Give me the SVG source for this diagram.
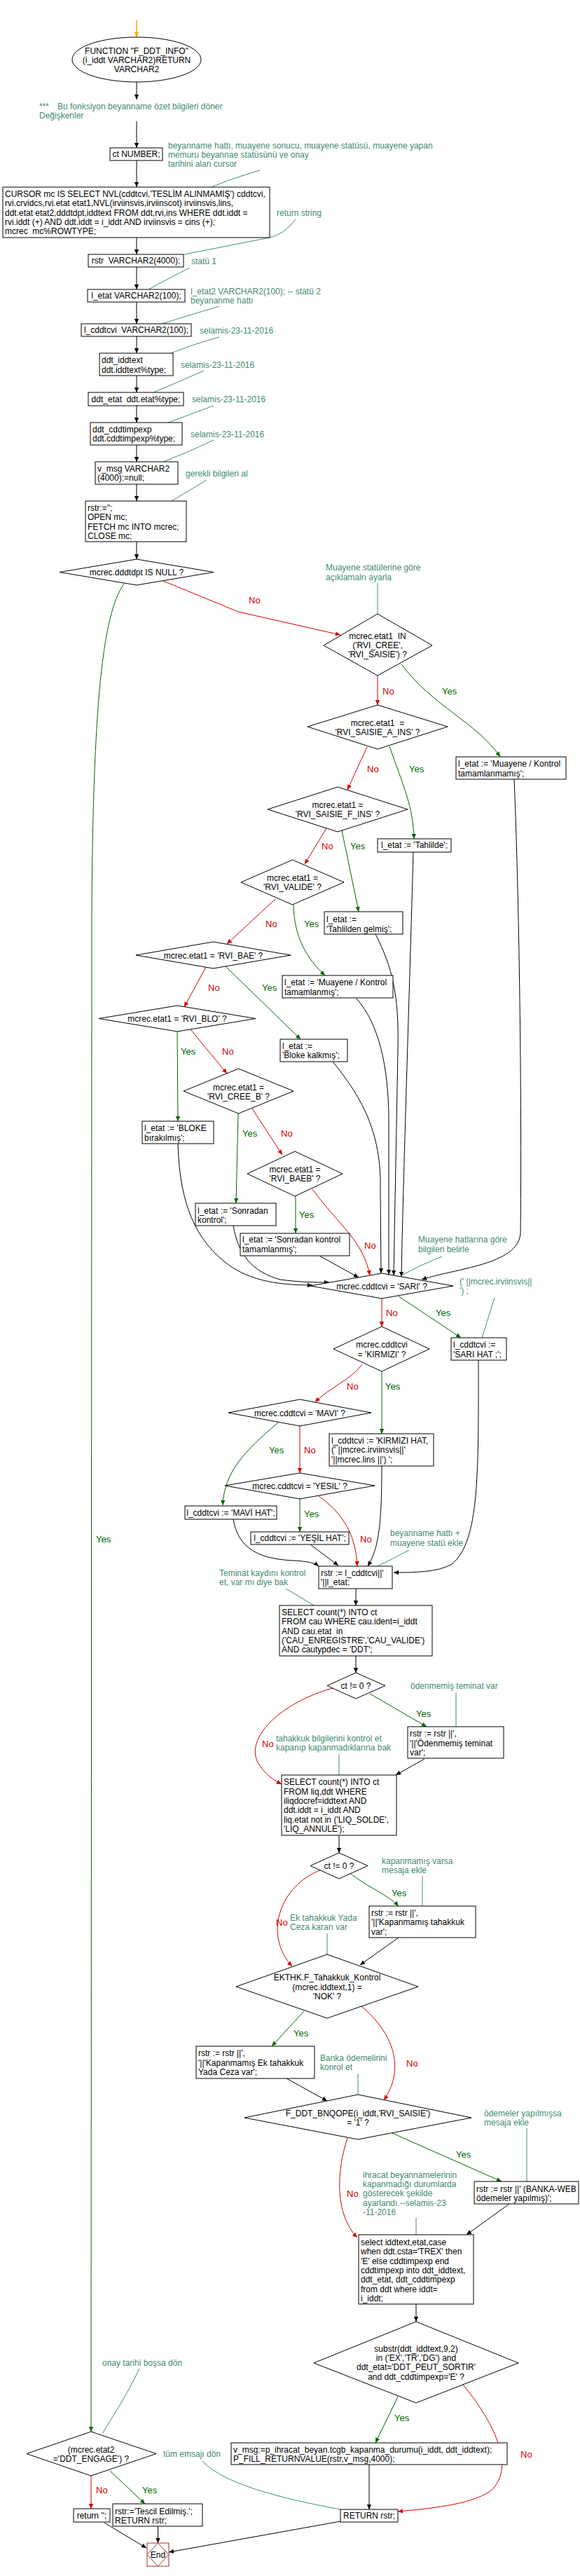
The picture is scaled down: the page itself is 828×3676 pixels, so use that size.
<svg xmlns="http://www.w3.org/2000/svg" width="828" height="3676" viewBox="0 0 828 3676">
<style>
.n{fill:#fff;stroke:#000;stroke-width:1}
text{font-family:"Liberation Sans",Arial,sans-serif;font-size:12px;fill:#000}
.m{text-anchor:middle}
text.c{fill:#438a70}
.cl{stroke:#438a70;fill:none;stroke-width:1}
.k{stroke:#000;fill:none;stroke-width:1}
.g{stroke:#006400;fill:none;stroke-width:1}
.r{stroke:#d00000;fill:none;stroke-width:1}
.o{stroke:#ffa500;fill:none;stroke-width:1.5}
text.y{fill:#006400;font-size:13px}
text.no{fill:#d00000;font-size:13px}
.e{fill:#fff;stroke:#a52a2a;stroke-width:1}
</style>
<defs>
<marker id="ak" viewBox="0 0 10 10" refX="10" refY="5" markerWidth="10" markerHeight="7" markerUnits="userSpaceOnUse" orient="auto"><path d="M0,0.5 L10,5 L0,9.5 z" fill="#000"/></marker>
<marker id="ag" viewBox="0 0 10 10" refX="10" refY="5" markerWidth="10" markerHeight="7" markerUnits="userSpaceOnUse" orient="auto"><path d="M0,0.5 L10,5 L0,9.5 z" fill="#006400"/></marker>
<marker id="ar" viewBox="0 0 10 10" refX="10" refY="5" markerWidth="10" markerHeight="7" markerUnits="userSpaceOnUse" orient="auto"><path d="M0,0.5 L10,5 L0,9.5 z" fill="#d00000"/></marker>
<marker id="ao" viewBox="0 0 10 10" refX="10" refY="5" markerWidth="10" markerHeight="7" markerUnits="userSpaceOnUse" orient="auto"><path d="M0,0.5 L10,5 L0,9.5 z" fill="#ffa500"/></marker>
</defs>

<g id="connectors">
<path class="o" d="M195,29 L195,53" marker-end="url(#ao)"/>
<path class="k" d="M195,117 L195,142" marker-end="url(#ak)"/>
<path class="k" d="M195,173 L195,211" marker-end="url(#ak)"/>
<path class="k" d="M195,229 L195,267" marker-end="url(#ak)"/>
<path class="k" d="M195,339 L195,363" marker-end="url(#ak)"/>
<path class="k" d="M195,381 L195,413" marker-end="url(#ak)"/>
<path class="k" d="M195,431 L195,462" marker-end="url(#ak)"/>
<path class="k" d="M195,480 L195,504" marker-end="url(#ak)"/>
<path class="k" d="M195,536 L195,560" marker-end="url(#ak)"/>
<path class="k" d="M195,579 L195,603" marker-end="url(#ak)"/>
<path class="k" d="M195,635 L195,659" marker-end="url(#ak)"/>
<path class="k" d="M195,691 L195,715" marker-end="url(#ak)"/>
<path class="k" d="M195,773 L195,798" marker-end="url(#ak)"/>
<path class="r" d="M233,829 L340,873 L486,906" marker-end="url(#ar)"/>
<text class="no" x="355" y="861">No</text>
<path class="g" d="M177,833 C148,875 133,990 131,1300 L130,3470" marker-end="url(#ag)"/>
<text class="y" x="137" y="2201">Yes</text>
<path class="r" d="M539,964 L539,1006" marker-end="url(#ar)"/>
<text class="no" x="546" y="991">No</text>
<path class="g" d="M573,948 C620,1010 680,1030 714,1080" marker-end="url(#ag)"/>
<text class="y" x="631" y="991">Yes</text>
<path class="r" d="M524,1066 L496,1127" marker-end="url(#ar)"/>
<text class="no" x="524" y="1102">No</text>
<path class="g" d="M556,1065 C575,1120 590,1150 591,1197" marker-end="url(#ag)"/>
<text class="y" x="584" y="1102">Yes</text>
<path class="r" d="M466,1182 L435,1233" marker-end="url(#ar)"/>
<text class="no" x="459" y="1212">No</text>
<path class="g" d="M488,1185 L512,1301" marker-end="url(#ag)"/>
<text class="y" x="500" y="1212">Yes</text>
<path class="r" d="M393,1283 L324,1347" marker-end="url(#ar)"/>
<text class="no" x="379" y="1323">No</text>
<path class="g" d="M419,1291 C420,1340 440,1370 464,1392" marker-end="url(#ag)"/>
<text class="y" x="434" y="1323">Yes</text>
<path class="r" d="M294,1380 L263,1437" marker-end="url(#ar)"/>
<text class="no" x="297" y="1414">No</text>
<path class="g" d="M322,1379 L429,1483" marker-end="url(#ag)"/>
<text class="y" x="374" y="1414">Yes</text>
<path class="g" d="M253,1472 L254,1600" marker-end="url(#ag)"/>
<text class="y" x="258" y="1505">Yes</text>
<path class="r" d="M272,1469 L324,1532" marker-end="url(#ar)"/>
<text class="no" x="317" y="1505">No</text>
<path class="g" d="M340,1589 L337,1717" marker-end="url(#ag)"/>
<text class="y" x="346" y="1622">Yes</text>
<path class="r" d="M360,1582 L403,1648" marker-end="url(#ar)"/>
<text class="no" x="401" y="1622">No</text>
<path class="g" d="M422,1707 L422,1760" marker-end="url(#ag)"/>
<text class="y" x="427" y="1738">Yes</text>
<path class="r" d="M446,1697 C485,1750 518,1770 528,1820" marker-end="url(#ar)"/>
<text class="no" x="520" y="1782">No</text>
<path class="k" d="M734,1112 C742,1300 745,1600 743,1760 C740,1805 650,1810 602,1826" marker-end="url(#ak)"/>
<path class="k" d="M590,1216 C585,1400 575,1700 573,1822" marker-end="url(#ak)"/>
<path class="k" d="M536,1333 C560,1380 570,1420 568,1500 L562,1820" marker-end="url(#ak)"/>
<path class="k" d="M509,1425 C540,1460 555,1520 555,1600 L555,1819" marker-end="url(#ak)"/>
<path class="k" d="M475,1515 C520,1570 545,1620 543,1700 L544,1817" marker-end="url(#ak)"/>
<path class="k" d="M456,1792 L512,1823" marker-end="url(#ak)"/>
<path class="k" d="M254,1632 C256,1700 270,1760 320,1800 C350,1825 390,1834 446,1834" marker-end="url(#ak)"/>
<path class="k" d="M333,1749 C340,1790 360,1815 400,1826 C430,1830 450,1830 470,1830" marker-end="url(#ak)"/>
<path class="r" d="M545,1853 L545,1893" marker-end="url(#ar)"/>
<text class="no" x="551" y="1878">No</text>
<path class="g" d="M568,1849 L658,1909" marker-end="url(#ag)"/>
<text class="y" x="622" y="1878">Yes</text>
<path class="g" d="M545,1957 L545,2046" marker-end="url(#ag)"/>
<text class="y" x="550" y="1983">Yes</text>
<path class="r" d="M517,1947 C500,1970 470,1980 450,2001" marker-end="url(#ar)"/>
<text class="no" x="495" y="1983">No</text>
<path class="r" d="M428,2035 L428,2102" marker-end="url(#ar)"/>
<text class="no" x="434" y="2074">No</text>
<path class="g" d="M397,2030 C350,2070 320,2100 318,2148" marker-end="url(#ag)"/>
<text class="y" x="384" y="2074">Yes</text>
<path class="g" d="M428,2139 L428,2186" marker-end="url(#ag)"/>
<text class="y" x="434" y="2165">Yes</text>
<path class="r" d="M455,2135 C490,2160 508,2190 510,2235" marker-end="url(#ar)"/>
<text class="no" x="514" y="2201">No</text>
<path class="k" d="M333,2168 C340,2210 370,2225 420,2227 C440,2228 450,2231 455,2235" marker-end="url(#ak)"/>
<path class="k" d="M443,2204 L483,2234" marker-end="url(#ak)"/>
<path class="k" d="M545,2092 C545,2180 540,2210 525,2235" marker-end="url(#ak)"/>
<path class="k" d="M683,1941 C683,2100 685,2200 645,2232 C625,2244 590,2244 562,2244" marker-end="url(#ak)"/>
<path class="k" d="M508,2267 L508,2291" marker-end="url(#ak)"/>
<path class="k" d="M508,2363 L508,2387" marker-end="url(#ak)"/>
<path class="g" d="M528,2417 L609,2464" marker-end="url(#ag)"/>
<text class="y" x="594" y="2450">Yes</text>
<path class="r" d="M475,2409 C400,2430 350,2480 368,2515 C378,2532 390,2540 402,2546" marker-end="url(#ar)"/>
<text class="no" x="374" y="2493">No</text>
<path class="k" d="M606,2510 L565,2533" marker-end="url(#ak)"/>
<path class="k" d="M484,2619 L484,2644" marker-end="url(#ak)"/>
<path class="g" d="M501,2674 C520,2690 555,2705 569,2720" marker-end="url(#ag)"/>
<text class="y" x="559" y="2706">Yes</text>
<path class="r" d="M459,2668 C400,2690 375,2760 417,2806" marker-end="url(#ar)"/>
<text class="no" x="394" y="2748">No</text>
<path class="k" d="M569,2765 L514,2804" marker-end="url(#ak)"/>
<path class="g" d="M434,2870 L388,2920" marker-end="url(#ag)"/>
<text class="y" x="419" y="2906">Yes</text>
<path class="r" d="M516,2863 C560,2900 580,2950 548,2997" marker-end="url(#ar)"/>
<text class="no" x="580" y="2949">No</text>
<path class="k" d="M409,2966 L467,2998" marker-end="url(#ak)"/>
<path class="g" d="M560,3044 L716,3113" marker-end="url(#ag)"/>
<text class="y" x="651" y="3079">Yes</text>
<path class="r" d="M496,3051 C480,3100 478,3160 510,3193" marker-end="url(#ar)"/>
<text class="no" x="495" y="3135">No</text>
<path class="k" d="M727,3145 L666,3189" marker-end="url(#ak)"/>
<path class="k" d="M594,3288 L594,3313" marker-end="url(#ak)"/>
<path class="g" d="M568,3420 L536,3486" marker-end="url(#ag)"/>
<text class="y" x="563" y="3455">Yes</text>
<path class="r" d="M661,3403 C700,3450 740,3520 700,3555 C670,3575 610,3580 568,3584" marker-end="url(#ar)"/>
<text class="no" x="743" y="3507">No</text>
<path class="k" d="M527,3517 L527,3581" marker-end="url(#ak)"/>
<path class="k" d="M486,3598 L241,3642" marker-end="url(#ak)"/>
<path class="r" d="M130,3533 L130,3580" marker-end="url(#ar)"/>
<text class="no" x="137" y="3558">No</text>
<path class="g" d="M157,3526 L207,3573" marker-end="url(#ag)"/>
<text class="y" x="203" y="3558">Yes</text>
<path class="k" d="M149,3600 L209,3636" marker-end="url(#ak)"/>
<path class="k" d="M225.5,3605 L225.5,3629" marker-end="url(#ak)"/>
</g>

<g id="comments">
<text class="c" x="56" y="156">***</text>
<text class="c" x="82" y="156">Bu fonksiyon beyanname özet bilgileri döner</text>
<text class="c" x="56" y="169">Değişkenler</text>
<text class="c" x="240"><tspan x="240" y="212">beyanname hattı, muayene sonucu, muayene statüsü, muayene yapan</tspan><tspan x="240" y="225">memuru beyannae statüsünü ve onay</tspan><tspan x="240" y="238">tarihini alan cursor</tspan></text>
<path class="cl" d="M371,243 Q330,255 302,267"/>
<text class="c" x="395" y="308">return string</text>
<path class="cl" d="M422,313 Q405,335 385,339 Q330,350 263,363"/>
<text class="c" x="273" y="377">statü 1</text>
<path class="cl" d="M271,382 Q245,395 212,413"/>
<text class="c"><tspan x="272" y="420">l_etat2 VARCHAR2(100); -- statü 2</tspan><tspan x="272" y="433">beyananme hattı</tspan></text>
<path class="cl" d="M313,437 Q270,450 231,462"/>
<text class="c" x="285" y="476">selamis-23-11-2016</text>
<path class="cl" d="M313,481 Q280,490 244,504"/>
<text class="c" x="258" y="525">selamis-23-11-2016</text>
<path class="cl" d="M291,529 Q255,545 219,560"/>
<text class="c" x="274" y="574">selamis-23-11-2016</text>
<path class="cl" d="M305,579 Q275,590 240,603"/>
<text class="c" x="272" y="624">selamis-23-11-2016</text>
<path class="cl" d="M305,628 Q270,645 233,659"/>
<text class="c" x="265" y="680">gerekli bilgileri al</text>
<path class="cl" d="M295,685 Q270,700 245,715"/>
<text class="c"><tspan x="465" y="814">Muayene statülerine göre</tspan><tspan x="465" y="828">açıklamalrı ayarla</tspan></text>
<path class="cl" d="M539,832 L539,876"/>
<text class="c"><tspan x="597" y="1773">Muayene hatlarına göre</tspan><tspan x="597" y="1787">bilgileri belirle</tspan></text>
<path class="cl" d="M631,1793 Q600,1805 573,1820"/>
<text class="c"><tspan x="656" y="1833">(' ||mcrec.irviinsvis||</tspan><tspan x="656" y="1846">') ;</tspan></text>
<path class="cl" d="M706,1852 L688,1909"/>
<text class="c"><tspan x="557" y="2192">beyanname hattı +</tspan><tspan x="557" y="2206">muayene statü ekle</tspan></text>
<path class="cl" d="M584,2212 Q560,2225 539,2235"/>
<text class="c"><tspan x="313" y="2249">Teminat kaydını kontrol</tspan><tspan x="313" y="2262">et, var mı diye bak</tspan></text>
<path class="cl" d="M408,2267 Q430,2280 448,2291"/>
<text class="c" x="586" y="2410">ödenmemiş teminat var</text>
<path class="cl" d="M651,2415 L651,2465"/>
<text class="c"><tspan x="394" y="2485">tahakkuk bilgilerini kontrol et</tspan><tspan x="394" y="2498">kapanıp kapanmadıklarına bak</tspan></text>
<path class="cl" d="M484,2503 L484,2533"/>
<text class="c"><tspan x="545" y="2660">kapanmamış varsa</tspan><tspan x="545" y="2673">mesaja ekle</tspan></text>
<path class="cl" d="M603,2677 L603,2720"/>
<text class="c"><tspan x="414" y="2741">Ek tahakkuk Yada</tspan><tspan x="414" y="2754">Ceza kararı var</tspan></text>
<path class="cl" d="M467,2759 L467,2789"/>
<text class="c"><tspan x="457" y="2941">Banka ödemelirini</tspan><tspan x="457" y="2954">konrol et</tspan></text>
<path class="cl" d="M511,2959 L511,2989"/>
<text class="c"><tspan x="691" y="3020">ödemeler yapılmışsa</tspan><tspan x="691" y="3033">mesaja ekle</tspan></text>
<path class="cl" d="M752,3037 L752,3113"/>
<text class="c"><tspan x="518" y="3108">ihracat beyannamelerinin</tspan><tspan x="518" y="3121">kapanmadığı durumlarda</tspan><tspan x="518" y="3134">gösterecek şekilde</tspan><tspan x="518" y="3148">ayarlandı.--selamis-23</tspan><tspan x="518" y="3161">-11-2016</tspan></text>
<path class="cl" d="M594,3165 L594,3189"/>
<text class="c" x="233" y="3506">tüm emsajı dön</text>
<path class="cl" d="M289,3512 C320,3545 400,3565 486,3581"/>
<text class="c" x="146" y="3376">onay tarihi boşsa dön</text>
<path class="cl" d="M199,3380 C180,3420 160,3450 146,3473"/>
</g>

<g id="start"><ellipse class="n" cx="195" cy="85" rx="92" ry="32"/><text class="m"><tspan x="195" y="77">FUNCTION "F_DDT_INFO"</tspan><tspan x="195" y="90">(i_iddt VARCHAR2)RETURN</tspan><tspan x="195" y="103">VARCHAR2</tspan></text></g>
<g id="ct"><rect class="n" x="157" y="211" width="75" height="18"/><text class="m" x="194.5" y="224">ct NUMBER;</text></g>
<g id="cursor"><rect class="n" x="4" y="267" width="381" height="72"/><text><tspan x="7" y="281">CURSOR mc IS SELECT NVL(cddtcvi,'TESLİM ALINMAMIŞ') cddtcvi,</tspan><tspan x="7" y="294">rvi.crvidcs,rvi.etat etat1,NVL(irviinsvis,irviinscot) irviinsvis,lins,</tspan><tspan x="7" y="308">ddt.etat etat2,dddtdpt,iddtext FROM ddt,rvi,ins WHERE ddt.iddt =</tspan><tspan x="7" y="321">rvi.iddt (+) AND ddt.iddt = i_iddt AND irviinsvis = cins (+);</tspan><tspan x="7" y="334" xml:space="preserve">mcrec  mc%ROWTYPE;</tspan></text></g>
<g id="rstrdecl"><rect class="n" x="126" y="363" width="136" height="18"/><text class="m" x="194" y="376" xml:space="preserve">rstr  VARCHAR2(4000);</text></g>
<g id="letat"><rect class="n" x="125" y="413" width="139" height="18"/><text class="m" x="194.5" y="426">l_etat VARCHAR2(100);</text></g>
<g id="lcddtcvi"><rect class="n" x="116" y="462" width="157" height="18"/><text class="m" x="194.5" y="475" xml:space="preserve">l_cddtcvi  VARCHAR2(100);</text></g>
<g id="ddtiddtext"><rect class="n" x="142" y="504" width="105" height="32"/><text><tspan x="145" y="518">ddt_iddtext</tspan><tspan x="145" y="532">ddt.iddtext%type;</tspan></text></g>
<g id="ddtetat"><rect class="n" x="126" y="560" width="136" height="19"/><text class="m" x="194" y="574" xml:space="preserve">ddt_etat  ddt.etat%type;</text></g>
<g id="ddtcddtimpexp"><rect class="n" x="129" y="603" width="131" height="32"/><text><tspan x="132" y="617">ddt_cddtimpexp</tspan><tspan x="132" y="630">ddt.cddtimpexp%type;</tspan></text></g>
<g id="vmsg"><rect class="n" x="136" y="659" width="118" height="32"/><text><tspan x="139" y="673">v_msg VARCHAR2</tspan><tspan x="139" y="686">(4000):=null;</tspan></text></g>
<g id="open"><rect class="n" x="122" y="715" width="144" height="58"/><text><tspan x="125" y="729">rstr:='';</tspan><tspan x="125" y="742">OPEN mc;</tspan><tspan x="125" y="756">FETCH mc INTO mcrec;</tspan><tspan x="125" y="769">CLOSE mc;</tspan></text></g>
<g id="d1"><path class="n" d="M195,798 L305,816.5 L195,835 L85,816.5 Z"/><text class="m" x="195" y="821">mcrec.dddtdpt IS NULL ?</text></g>
<g id="d2"><path class="n" d="M539,876 L617,921 L539,964 L462,921 Z"/><text class="m" xml:space="preserve"><tspan x="539" y="912">mcrec.etat1  IN</tspan><tspan x="539" y="925">('RVI_CREE',</tspan><tspan x="539" y="938">'RVI_SAISIE') ?</tspan></text></g>
<g id="b1"><rect class="n" x="651" y="1080" width="157" height="32"/><text><tspan x="654" y="1094">l_etat := 'Muayene / Kontrol</tspan><tspan x="654" y="1108">tamamlanmamış';</tspan></text></g>
<g id="d3"><path class="n" d="M539,1006 L639,1037 L539,1069 L439,1037 Z"/><text class="m" xml:space="preserve"><tspan x="539" y="1036">mcrec.etat1  =</tspan><tspan x="539" y="1049">'RVI_SAISIE_A_INS' ?</tspan></text></g>
<g id="d4"><path class="n" d="M482,1123 L582,1155 L482,1187 L382,1155 Z"/><text class="m"><tspan x="482" y="1153">mcrec.etat1 =</tspan><tspan x="482" y="1166">'RVI_SAISIE_F_INS' ?</tspan></text></g>
<g id="b2"><rect class="n" x="539" y="1197" width="105" height="19"/><text class="m" x="591.5" y="1210">l_etat := 'Tahlilde';</text></g>
<g id="d5"><path class="n" d="M417.5,1227 L491,1259 L417.5,1291 L344,1259 Z"/><text class="m"><tspan x="417.5" y="1257">mcrec.etat1 =</tspan><tspan x="417.5" y="1270">'RVI_VALIDE' ?</tspan></text></g>
<g id="b3"><rect class="n" x="463" y="1301" width="112" height="32"/><text><tspan x="466" y="1316">l_etat :=</tspan><tspan x="466" y="1330">'Tahlilden gelmiş';</tspan></text></g>
<g id="d6"><path class="n" d="M304.5,1344 L415,1363 L304.5,1382 L194,1363 Z"/><text class="m" x="304.5" y="1368">mcrec.etat1 = 'RVI_BAE' ?</text></g>
<g id="b4"><rect class="n" x="403" y="1392" width="158" height="32"/><text><tspan x="406" y="1406">l_etat := 'Muayene / Kontrol</tspan><tspan x="406" y="1420">tamamlanmış';</tspan></text></g>
<g id="d7"><path class="n" d="M253,1435 L365,1453.5 L253,1472 L141,1453.5 Z"/><text class="m" x="253" y="1458">mcrec.etat1 = 'RVI_BLO' ?</text></g>
<g id="b5"><rect class="n" x="400" y="1483" width="96" height="32"/><text><tspan x="403" y="1497">l_etat :=</tspan><tspan x="403" y="1510">'Bloke kalkmış';</tspan></text></g>
<g id="d8"><path class="n" d="M340.5,1525 L419,1557 L340.5,1589 L262,1557 Z"/><text class="m"><tspan x="340.5" y="1556">mcrec.etat1 =</tspan><tspan x="340.5" y="1569">'RVI_CREE_B' ?</tspan></text></g>
<g id="b6"><rect class="n" x="203" y="1600" width="102" height="32"/><text><tspan x="206" y="1614">l_etat := 'BLOKE</tspan><tspan x="206" y="1628">bırakılmış';</tspan></text></g>
<g id="d9"><path class="n" d="M421,1643 L489,1675 L421,1707 L353,1675 Z"/><text class="m"><tspan x="421" y="1673">mcrec.etat1 =</tspan><tspan x="421" y="1686">'RVI_BAEB' ?</tspan></text></g>
<g id="b7"><rect class="n" x="279" y="1717" width="115" height="32"/><text><tspan x="282" y="1732">l_etat := 'Sonradan</tspan><tspan x="282" y="1745">kontrol';</tspan></text></g>
<g id="b8"><rect class="n" x="343" y="1760" width="156" height="32"/><text><tspan x="346" y="1773">l_etat := 'Sonradan kontrol</tspan><tspan x="346" y="1787">tamamlanmış';</tspan></text></g>
<g id="d10"><path class="n" d="M545,1817 L647,1835 L545,1853 L443,1835 Z"/><text class="m" x="545" y="1840">mcrec.cddtcvi = 'SARI' ?</text></g>
<g id="b9"><rect class="n" x="644" y="1909" width="79" height="32"/><text><tspan x="647" y="1923">l_cddtcvi :=</tspan><tspan x="647" y="1937">'SARI HAT ;';</tspan></text></g>
<g id="d11"><path class="n" d="M545,1893 L613,1925 L545,1957 L476,1925 Z"/><text class="m"><tspan x="545" y="1923">mcrec.cddtcvi</tspan><tspan x="545" y="1937">= 'KIRMIZI' ?</tspan></text></g>
<g id="b10"><rect class="n" x="470" y="2046" width="149" height="46"/><text><tspan x="473" y="2060">l_cddtcvi := 'KIRMIZI HAT,</tspan><tspan x="473" y="2073">(' ||mcrec.irviinsvis||'</tspan><tspan x="473" y="2087">'||mcrec.lins ||') ';</tspan></text></g>
<g id="d12"><path class="n" d="M428,1997 L530,2016 L428,2035 L326,2016 Z"/><text class="m" x="428" y="2021">mcrec.cddtcvi = 'MAVI' ?</text></g>
<g id="d13"><path class="n" d="M428,2102 L535,2120 L428,2139 L321,2120 Z"/><text class="m" x="428" y="2125">mcrec.cddtcvi = 'YESIL' ?</text></g>
<g id="b11"><rect class="n" x="264" y="2149" width="131" height="19"/><text class="m" x="329.5" y="2163">l_cddtcvi := 'MAVİ HAT';</text></g>
<g id="b12"><rect class="n" x="358" y="2186" width="140" height="18"/><text class="m" x="428" y="2199">l_cddtcvi := 'YEŞİL HAT';</text></g>
<g id="b13"><rect class="n" x="455" y="2235" width="105" height="32"/><text><tspan x="458" y="2249">rstr := l_cddtcvi||'</tspan><tspan x="458" y="2262">'||l_etat;</tspan></text></g>
<g id="b14"><rect class="n" x="399" y="2291" width="218" height="72"/><text xml:space="preserve"><tspan x="402" y="2305">SELECT count(*) INTO ct</tspan><tspan x="402" y="2318">FROM cau WHERE cau.ident=i_iddt</tspan><tspan x="402" y="2332">AND cau.etat  in</tspan><tspan x="402" y="2345">('CAU_ENREGISTRE','CAU_VALIDE')</tspan><tspan x="402" y="2358">AND cautypdec = 'DDT';</tspan></text></g>
<g id="d14"><path class="n" d="M508,2387 L550,2405.5 L508,2424 L467,2405.5 Z"/><text class="m" x="508" y="2410">ct != 0 ?</text></g>
<g id="b15"><rect class="n" x="582" y="2464" width="137" height="45"/><text><tspan x="585" y="2478">rstr := rstr ||',</tspan><tspan x="585" y="2492">'||'Ödenmemiş teminat</tspan><tspan x="585" y="2505">var';</tspan></text></g>
<g id="b16"><rect class="n" x="402" y="2533" width="164" height="86"/><text><tspan x="405" y="2547">SELECT count(*) INTO ct</tspan><tspan x="405" y="2561">FROM liq,ddt WHERE</tspan><tspan x="405" y="2574">iliqdocref=iddtext AND</tspan><tspan x="405" y="2587">ddt.iddt = i_iddt AND</tspan><tspan x="405" y="2601">liq.etat not in ('LIQ_SOLDE',</tspan><tspan x="405" y="2614">'LIQ_ANNULE');</tspan></text></g>
<g id="d15"><path class="n" d="M484,2644 L525,2662.5 L484,2681 L443,2662.5 Z"/><text class="m" x="484" y="2667">ct != 0 ?</text></g>
<g id="b17"><rect class="n" x="527" y="2720" width="152" height="45"/><text><tspan x="530" y="2734">rstr := rstr ||',</tspan><tspan x="530" y="2747">'||'Kapanmamış tahakkuk</tspan><tspan x="530" y="2761">var';</tspan></text></g>
<g id="d16"><path class="n" d="M467,2789 L597,2835 L467,2880 L337,2835 Z"/><text class="m"><tspan x="467" y="2826">EKTHK.F_Tahakkuk_Kontrol</tspan><tspan x="467" y="2840">(mcrec.iddtext,1) =</tspan><tspan x="467" y="2853">'NOK' ?</tspan></text></g>
<g id="b18"><rect class="n" x="280" y="2920" width="169" height="46"/><text><tspan x="283" y="2934">rstr := rstr ||',</tspan><tspan x="283" y="2948">'||'Kapanmamış Ek tahakkuk</tspan><tspan x="283" y="2961">Yada Ceza var';</tspan></text></g>
<g id="d17"><path class="n" d="M511,2989 L673,3022 L511,3053 L349,3022 Z"/><text class="m"><tspan x="511" y="3020">F_DDT_BNQOPE(i_iddt,'RVI_SAISIE')</tspan><tspan x="511" y="3033">= '1' ?</tspan></text></g>
<g id="b19"><rect class="n" x="677" y="3113" width="149" height="32"/><text><tspan x="680" y="3128">rstr := rstr ||' (BANKA-WEB</tspan><tspan x="680" y="3141">ödemeler yapılmış)';</tspan></text></g>
<g id="b20"><rect class="n" x="512" y="3189" width="164" height="99"/><text><tspan x="515" y="3204">select iddtext,etat,case</tspan><tspan x="515" y="3217">when ddt.csta='TREX' then</tspan><tspan x="515" y="3231">'E' else cddtimpexp end</tspan><tspan x="515" y="3244">cddtimpexp into ddt_iddtext,</tspan><tspan x="515" y="3257">ddt_etat, ddt_cddtimpexp</tspan><tspan x="515" y="3271">from ddt where iddt=</tspan><tspan x="515" y="3284">i_iddt;</tspan></text></g>
<g id="d18"><path class="n" d="M594,3313 L740,3372 L594,3429 L448,3372 Z"/><text class="m"><tspan x="594" y="3356">substr(ddt_iddtext,9,2)</tspan><tspan x="594" y="3369">in ('EX','TR','DG') and</tspan><tspan x="594" y="3382">ddt_etat='DDT_PEUT_SORTIR'</tspan><tspan x="594" y="3396">and ddt_cddtimpexp='E' ?</tspan></text></g>
<g id="b21"><rect class="n" x="330" y="3486" width="394" height="31"/><text><tspan x="333" y="3500">v_msg:=p_ihracat_beyan.tcgb_kapanma_durumu(i_iddt, ddt_iddtext);</tspan><tspan x="333" y="3513">P_FILL_RETURNVALUE(rstr,v_msg,4000);</tspan></text></g>
<g id="b22"><rect class="n" x="486" y="3581" width="82" height="18"/><text class="m" x="527" y="3594">RETURN rstr;</text></g>
<g id="d19"><path class="n" d="M130,3470 L223,3501.5 L130,3533 L38,3501.5 Z"/><text class="m"><tspan x="130" y="3500">(mcrec.etat2</tspan><tspan x="130" y="3513">='DDT_ENGAGE') ?</tspan></text></g>
<g id="b23"><rect class="n" x="105" y="3580" width="52" height="19"/><text class="m" x="131" y="3594">return '';</text></g>
<g id="b24"><rect class="n" x="161" y="3573" width="128" height="32"/><text><tspan x="164" y="3588">rstr:='Tescil Edilmiş.';</tspan><tspan x="164" y="3601">RETURN rstr;</tspan></text></g>
<g id="end"><rect class="e" x="210" y="3629" width="31" height="33"/><path class="e" d="M225.5,3629 L241,3645.5 L225.5,3662 L210,3645.5 Z"/><text class="m" x="225.5" y="3650">End</text></g>
</svg>
